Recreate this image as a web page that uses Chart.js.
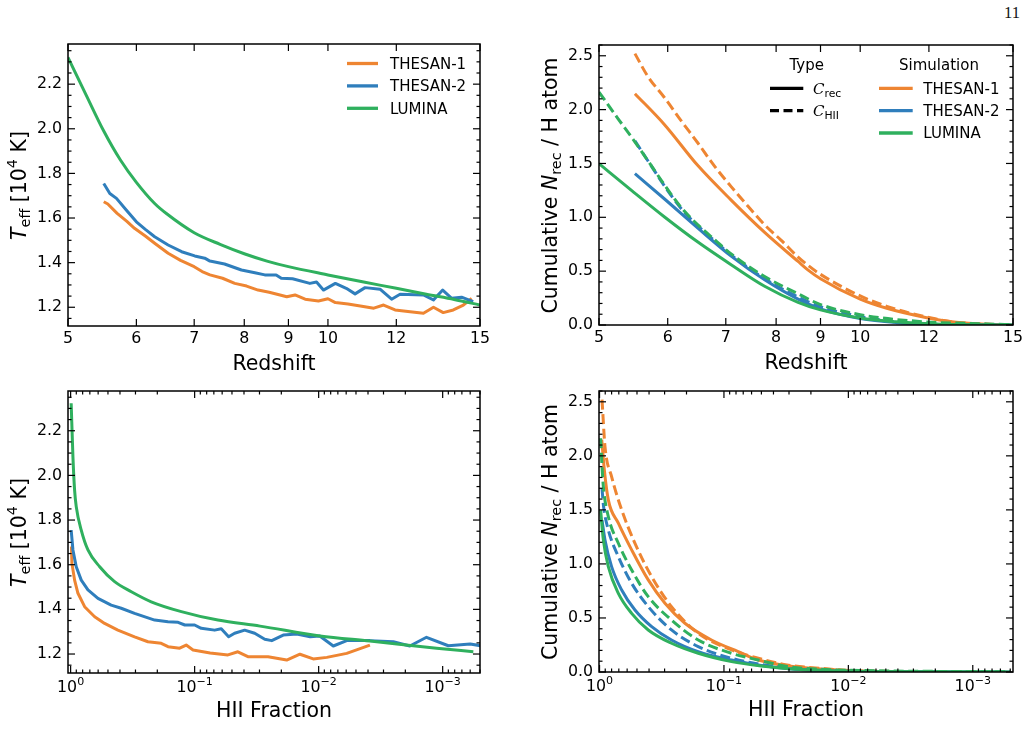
<!DOCTYPE html>
<html><head><meta charset="utf-8">
<script src="https://cdn.jsdelivr.net/npm/chart.js@4.4.0/dist/chart.umd.min.js"></script>
<style>
html,body{margin:0;padding:0;background:#fff;}
body{width:1031px;height:736px;position:relative;overflow:hidden;}
canvas{position:absolute;}
#pg{position:absolute;left:1004px;top:3px;font:16.5px "Liberation Serif","DejaVu Serif",serif;color:#111;-webkit-font-smoothing:antialiased;}
</style></head><body>
<div id="pg">11</div>
<canvas id="c1" width="515" height="380" style="left:0;top:0"></canvas>
<canvas id="c2" width="516" height="380" style="left:515px;top:0"></canvas>
<canvas id="c3" width="515" height="366" style="left:0;top:370px"></canvas>
<canvas id="c4" width="516" height="366" style="left:515px;top:370px"></canvas>
<script>
// ---------------- DATA ----------------
const simNames = ['THESAN-1', 'THESAN-2', 'LUMINA'];
const redshiftTicks = [5, 6, 7, 8, 9, 10, 12, 15];
const teffTicks = [1.2, 1.4, 1.6, 1.8, 2.0, 2.2];
const nrecTicks = [0, 0.5, 1.0, 1.5, 2.0, 2.5];
const hiiTicks = [1, 0.1, 0.01, 0.001];
const hiiTickBase = '10';
const hiiTickExps = ['0', '−1', '−2', '−3'];

// Top-left: T_eff vs redshift
const t1TeffZ = [5.5,5.56,5.7,5.85,5.97,6.15,6.3,6.53,6.75,7.0,7.15,7.3,7.55,7.8,8.05,8.3,8.55,8.8,8.96,9.16,9.41,9.75,10.0,10.2,10.55,10.9,11.3,11.6,11.96,12.45,12.9,13.25,13.6,13.97,14.35,14.67];
const t1Teff  = [1.673,1.663,1.621,1.585,1.554,1.518,1.487,1.442,1.41,1.382,1.36,1.345,1.33,1.307,1.295,1.277,1.267,1.255,1.247,1.255,1.236,1.228,1.238,1.221,1.215,1.206,1.196,1.21,1.188,1.18,1.173,1.2,1.176,1.188,1.21,1.24];
const t2TeffZ = [5.5,5.59,5.69,5.84,6.0,6.15,6.3,6.53,6.77,7.01,7.2,7.3,7.59,7.94,8.23,8.45,8.71,8.83,9.1,9.53,9.7,9.88,10.2,10.5,10.75,11.04,11.49,11.85,12.12,12.9,13.25,13.58,13.91,14.28,14.73];
const t2Teff  = [1.755,1.71,1.688,1.636,1.583,1.548,1.516,1.479,1.449,1.43,1.42,1.407,1.394,1.367,1.355,1.345,1.345,1.33,1.328,1.307,1.313,1.277,1.307,1.285,1.26,1.288,1.281,1.236,1.258,1.255,1.233,1.277,1.24,1.245,1.225];
const lumTeffZ = [5,5.25,5.5,5.75,6,6.3,6.5,7,7.5,8,8.5,9,10,11,12,13,14,15];
const lumTeff  = [2.32,2.15,1.99,1.86,1.76,1.665,1.62,1.534,1.482,1.44,1.407,1.382,1.345,1.313,1.285,1.258,1.235,1.21];

// Top-right: cumulative N_rec vs redshift
const t1CrecZ = [5.5,5.95,6.5,7.1,7.76,8.48,8.71,9,10,10.73,11.93,12.9,14.3,15];
const t1Crec  = [2.148,1.86,1.48,1.16,0.86,0.59,0.51,0.43,0.24,0.155,0.068,0.025,0.005,0.0];
const t1ChiiZ = [5.5,5.69,5.95,6.22,6.5,6.8,7.1,7.43,7.76,8.11,8.48,8.71,9,10,10.73,11.93,12.9,14.3,15];
const t1Chii  = [2.52,2.31,2.11,1.895,1.69,1.47,1.285,1.1,0.93,0.786,0.631,0.553,0.47,0.27,0.173,0.074,0.025,0.005,0.0];
const t2CrecZ = [5.5,5.95,6.5,7.1,7.76,8.48,9,10,11,12,13,15];
const t2Crec  = [1.405,1.17,0.9,0.64,0.42,0.24,0.15,0.06,0.022,0.007,0.002,0.0];
const t2ChiiZ = [5.5,5.69,5.95,6.22,6.5,6.8,7.1,7.76,8.48,9,10,11,12,13,15];
const t2Chii  = [1.71,1.528,1.29,1.08,0.92,0.78,0.65,0.43,0.26,0.17,0.08,0.028,0.009,0.002,0.0];
const lumCrecZ = [5,5.45,5.95,6.5,7.1,7.76,8.48,9,10,11,12,13,15];
const lumCrec  = [1.498,1.25,1.003,0.77,0.56,0.36,0.21,0.14,0.065,0.03,0.012,0.004,0.0];
const lumChiiZ = [5,5.26,5.45,5.69,5.95,6.22,6.5,6.8,7.1,7.76,8.48,9,10,11.7,14,15];
const lumChii  = [2.163,1.915,1.745,1.528,1.3,1.09,0.93,0.79,0.66,0.45,0.29,0.19,0.096,0.033,0.01,0.003];

// Bottom-left: T_eff vs HII fraction
const t1TeffX = [0.985,0.976,0.929,0.873,0.771,0.64,0.532,0.416,0.305,0.238,0.186,0.164,0.132,0.117,0.103,0.075,0.0539,0.0448,0.0372,0.0256,0.0181,0.01415,0.01106,0.0086,0.00594,0.00386];
const t1TeffB = [1.68,1.606,1.531,1.472,1.412,1.367,1.337,1.307,1.277,1.255,1.248,1.233,1.226,1.24,1.218,1.205,1.196,1.21,1.188,1.188,1.173,1.199,1.178,1.185,1.203,1.24];
const t2TeffX = [0.99,0.958,0.901,0.821,0.725,0.602,0.471,0.391,0.305,0.21,0.164,0.136,0.12,0.1,0.0885,0.069,0.061,0.0532,0.0476,0.0395,0.0328,0.0272,0.0239,0.0193,0.015,0.0117,0.0098,0.00762,0.00594,0.00386,0.0025,0.00184,0.00135,0.0009,0.0006,0.00048];
const t2TeffB = [1.755,1.666,1.591,1.531,1.487,1.449,1.419,1.405,1.382,1.352,1.345,1.342,1.33,1.33,1.315,1.307,1.313,1.277,1.293,1.307,1.293,1.266,1.26,1.285,1.29,1.277,1.281,1.236,1.26,1.26,1.255,1.236,1.275,1.237,1.245,1.236];
const lumTeffX = [0.99,0.958,0.929,0.901,0.821,0.725,0.583,0.442,0.324,0.224,0.128,0.0649,0.0297,0.00977,0.00386,0.00112,0.000566];
const lumTeffB = [2.323,2.083,1.934,1.86,1.755,1.666,1.591,1.524,1.479,1.434,1.39,1.352,1.325,1.281,1.258,1.226,1.21];

// Bottom-right: cumulative N_rec vs HII fraction
const t1CrecX = [0.96,0.915,0.85,0.706,0.552,0.406,0.298,0.206,0.126,0.0768,0.053,0.03,0.015,0.008,0.004];
const t1CrecB = [2.15,1.87,1.593,1.377,1.13,0.852,0.636,0.451,0.296,0.188,0.111,0.055,0.025,0.01,0.003];
const t1ChiiX = [0.955,0.904,0.8,0.664,0.519,0.381,0.264,0.161,0.0869,0.053,0.0312,0.0168,0.0091,0.004];
const t1ChiiB = [2.52,2.086,1.808,1.5,1.191,0.882,0.605,0.358,0.204,0.127,0.065,0.034,0.012,0.004];
const t2CrecX = [0.955,0.904,0.8,0.664,0.519,0.381,0.264,0.161,0.0869,0.05,0.03,0.015,0.005,0.001,0.0005];
const t2CrecB = [1.405,1.222,0.975,0.759,0.574,0.42,0.296,0.188,0.111,0.06,0.03,0.012,0.003,0.001,0.0];
const t2ChiiX = [0.955,0.932,0.85,0.706,0.552,0.406,0.264,0.161,0.0869,0.05,0.03,0.015,0.005,0.001,0.0005];
const t2ChiiB = [1.7,1.55,1.315,1.068,0.821,0.605,0.389,0.235,0.127,0.07,0.035,0.015,0.004,0.001,0.0];
const lumCrecX = [0.98,0.932,0.85,0.706,0.552,0.406,0.264,0.161,0.0869,0.05,0.03,0.015,0.005,0.001,0.0005];
const lumCrecB = [1.498,1.222,0.975,0.728,0.543,0.389,0.266,0.173,0.096,0.055,0.03,0.014,0.005,0.002,0.001];
const lumChiiX = [0.98,0.955,0.932,0.85,0.706,0.552,0.406,0.264,0.161,0.0869,0.053,0.031,0.0168,0.0049,0.001,0.0005];
const lumChiiB = [2.163,1.9,1.716,1.438,1.191,0.944,0.697,0.481,0.296,0.173,0.111,0.05,0.025,0.01,0.004,0.002];

// ---------------- STYLE ----------------
const FONT = "'DejaVu Sans', 'Liberation Sans', sans-serif";
const COL = ['#ee8532', '#2f7ebc', '#2fb05e'];
const DASH = [10, 4.5];

const pts = (xs, ys) => xs.map((x, i) => ({x: x, y: ys[i]}));
function ds(label, xs, ys, color, order, extra) {
  return Object.assign({label, data: pts(xs, ys), borderColor: color, backgroundColor: color,
    borderWidth: 3, pointRadius: 0, pointHoverRadius: 0, fill: false, tension: 0,
    borderCapStyle: 'butt', borderJoinStyle: 'round', order}, extra || {});
}
const smooth = {cubicInterpolationMode: 'monotone'};
const dashed = {cubicInterpolationMode: 'monotone', borderDash: DASH};

function drawRich(ctx, segs, size, x, y, rot, align) {
  ctx.save(); ctx.translate(x, y); ctx.rotate(rot || 0);
  let w = 0;
  const m = segs.map(g => {
    const fs = size * (g.s || 1);
    const f = (g.it ? 'italic ' : '') + fs + 'px ' + (g.fam || FONT);
    ctx.font = f; const ww = ctx.measureText(g.t).width; w += ww;
    return {f, ww, dy: (g.dy || 0) * size, t: g.t};
  });
  let cx = align === 'left' ? 0 : -w / 2;
  ctx.textBaseline = 'alphabetic'; ctx.textAlign = 'left'; ctx.fillStyle = '#000';
  m.forEach(g => { ctx.font = g.f; ctx.fillText(g.t, cx, g.dy); cx += g.ww; });
  ctx.restore();
}

const teffTitle = [{t: 'T', it: true}, {t: 'eff', s: 0.7, dy: 0.22}, {t: ' [10'}, {t: '4', s: 0.7, dy: -0.4}, {t: ' K]'}];
const nrecTitle = [{t: 'Cumulative '}, {t: 'N', it: true}, {t: 'rec', s: 0.7, dy: 0.22}, {t: ' / H atom'}];
const redshiftTitle = [{t: 'Redshift'}];
const hiiTitle = [{t: 'HII Fraction'}];
const TICK_SIZE = 15.8;

function decor(cfg) {
  return {
    id: 'decor',
    afterDraw(chart) {
      const ctx = chart.ctx, a = chart.chartArea, xs = chart.scales.x, ys = chart.scales.y;
      ctx.save();
      ctx.strokeStyle = '#000'; ctx.lineWidth = 1.2; ctx.lineCap = 'butt';
      const seg = (x1, y1, x2, y2) => { ctx.beginPath(); ctx.moveTo(x1, y1); ctx.lineTo(x2, y2); ctx.stroke(); };
      const xt = (v, L) => { const p = xs.getPixelForValue(v); if (p < a.left - 0.5 || p > a.right + 0.5) return; seg(p, a.bottom, p, a.bottom - L); seg(p, a.top, p, a.top + L); };
      const yt = (v, L) => { const p = ys.getPixelForValue(v); if (p < a.top - 0.5 || p > a.bottom + 0.5) return; seg(a.left, p, a.left + L, p); seg(a.right, p, a.right - L, p); };
      xs.ticks.forEach(t => xt(t.value, 7));
      (cfg.xMinor || []).forEach(v => xt(v, 3.5));
      ys.ticks.forEach(t => yt(t.value, 7));
      (cfg.yMinor || []).forEach(v => yt(v, 3.5));
      ctx.lineWidth = 1.5;
      ctx.strokeRect(a.left, a.top, a.right - a.left, a.bottom - a.top);
      if (cfg.powerLabels) {
        hiiTicks.forEach((v, i) => {
          const p = xs.getPixelForValue(v);
          drawRich(ctx, [{t: hiiTickBase}, {t: hiiTickExps[i], s: 0.7, dy: -0.42}], TICK_SIZE, p, a.bottom + 18.7, 0);
        });
      }
      drawRich(ctx, cfg.xTitle, 20.5, (a.left + a.right) / 2, a.bottom + 43.5, 0);
      drawRich(ctx, cfg.yTitle, 20.5, cfg.yTitleX, (a.top + a.bottom) / 2 + 0.5, -Math.PI / 2);
      if (cfg.legend) cfg.legend(ctx, chart);
      ctx.restore();
    }
  };
}

function legendLine(ctx, x1, x2, y, color, dash) {
  ctx.save(); ctx.strokeStyle = color; ctx.lineWidth = 3.3; ctx.lineCap = 'butt';
  ctx.setLineDash(dash || []);
  ctx.beginPath(); ctx.moveTo(x1, y); ctx.lineTo(x2, y); ctx.stroke(); ctx.restore();
}
function legendText(ctx, t, x, y, align) {
  ctx.save(); ctx.fillStyle = '#000'; ctx.font = '15px ' + FONT; ctx.textAlign = align || 'left';
  ctx.textBaseline = 'alphabetic'; ctx.fillText(t, x, y + 5.4); ctx.restore();
}

const legendTL = (ctx) => {
  simNames.forEach((n, i) => {
    const y = 63.5 + i * 22.4;
    legendLine(ctx, 347, 378, y, COL[i]);
    legendText(ctx, n, 390, y);
  });
};
const legendTR = (ctx) => {
  legendText(ctx, 'Type', 291.7, 65, 'center');
  legendText(ctx, 'Simulation', 424, 65, 'center');
  legendLine(ctx, 255, 288.3, 88.3, '#000');
  legendLine(ctx, 255, 288.3, 110.7, '#000', [9, 4.5]);
  drawRich(ctx, [{t: 'C', it: true, fam: "'DejaVu Serif', serif"}, {t: 'rec', s: 0.72, dy: 0.2}], 15, 298, 88.3 + 5.4, 0, 'left');
  drawRich(ctx, [{t: 'C', it: true, fam: "'DejaVu Serif', serif"}, {t: 'HII', s: 0.72, dy: 0.2}], 15, 298, 110.7 + 5.4, 0, 'left');
  simNames.forEach((n, i) => {
    const y = 88.3 + i * 22.35;
    legendLine(ctx, 364, 397.7, y, COL[i]);
    legendText(ctx, n, 408.3, y);
  });
};

const tickFont = {family: FONT, size: TICK_SIZE};
function axisX(kind, H) {
  const base = {position: 'bottom', grid: {display: false, drawTicks: false}, border: {display: false},
    afterFit: s => { s.height = H; },
    ticks: {autoSkip: false, maxRotation: 0, minRotation: 0, padding: 3, color: '#000', font: tickFont}};
  if (kind === 'z') {
    return Object.assign(base, {type: 'logarithmic', min: 5, max: 15,
      afterBuildTicks: s => { s.ticks = redshiftTicks.map(v => ({value: v})); },
      ticks: Object.assign(base.ticks, {callback: v => String(v)})});
  }
  return Object.assign(base, {type: 'logarithmic', reverse: true, min: kind.min, max: kind.max,
    afterBuildTicks: s => { s.ticks = hiiTicks.map(v => ({value: v})); },
    ticks: Object.assign(base.ticks, {display: false})});
}
function axisY(ticksArr, min, max, W) {
  return {type: 'linear', min, max, grid: {display: false, drawTicks: false}, border: {display: false},
    afterFit: s => { s.width = W; },
    afterBuildTicks: s => { s.ticks = ticksArr.map(v => ({value: v})); },
    ticks: {padding: 6, color: '#000', font: tickFont, callback: v => Number(v).toFixed(1)}};
}
function minorLinear(min, max, step, majors) {
  const out = [];
  for (let k = Math.ceil(min / step); k * step <= max; k++) {
    const v = +(k * step).toFixed(4);
    if (!majors.some(m => Math.abs(m - v) < 1e-6)) out.push(v);
  }
  return out;
}
function minorLog(min, max) {
  const out = [];
  for (let e = -4; e <= 0; e++) for (let d = 2; d <= 9; d++) { const v = d * Math.pow(10, e); if (v >= min && v <= max) out.push(v); }
  return out;
}

function makeChart(id, datasets, scales, padding, cfg) {
  return new Chart(document.getElementById(id), {
    type: 'line',
    data: {datasets},
    options: {responsive: false, animation: false, devicePixelRatio: 1, events: [],
      layout: {padding},
      plugins: {legend: {display: false}, tooltip: {enabled: false}, title: {display: false}},
      scales},
    plugins: [decor(cfg)]
  });
}

// ---- Top-left ----
makeChart('c1', [
  ds(simNames[0], t1TeffZ, t1Teff, COL[0], 3),
  ds(simNames[1], t2TeffZ, t2Teff, COL[1], 2),
  ds(simNames[2], lumTeffZ, lumTeff, COL[2], 1, smooth)
], {x: axisX('z', 54), y: axisY(teffTicks, 1.116, 2.38, 68)},
  {top: 44, right: 35, left: 0, bottom: 0},
  {xTitle: redshiftTitle, yTitle: teffTitle, yTitleX: 25.5, yMinor: minorLinear(1.116, 2.38, 0.05, teffTicks), legend: legendTL});

// ---- Top-right ----
makeChart('c2', [
  ds(simNames[0] + ' rec', t1CrecZ, t1Crec, COL[0], 6, smooth),
  ds(simNames[0] + ' HII', t1ChiiZ, t1Chii, COL[0], 5, dashed),
  ds(simNames[1] + ' rec', t2CrecZ, t2Crec, COL[1], 4, smooth),
  ds(simNames[1] + ' HII', t2ChiiZ, t2Chii, COL[1], 3, dashed),
  ds(simNames[2] + ' rec', lumCrecZ, lumCrec, COL[2], 2, smooth),
  ds(simNames[2] + ' HII', lumChiiZ, lumChii, COL[2], 1, dashed)
], {x: axisX('z', 55), y: axisY(nrecTicks, 0, 2.6, 84)},
  {top: 45, right: 18, left: 0, bottom: 0},
  {xTitle: redshiftTitle, yTitle: nrecTitle, yTitleX: 41.5, yMinor: minorLinear(0, 2.6, 0.1, nrecTicks), legend: legendTR});

// ---- Bottom-left ----
makeChart('c3', [
  ds(simNames[0], t1TeffX, t1TeffB, COL[0], 3),
  ds(simNames[1], t2TeffX, t2TeffB, COL[1], 2),
  ds(simNames[2], lumTeffX, lumTeffB, COL[2], 1, smooth)
], {x: axisX({min: 5.0e-4, max: 1.05}, 63), y: axisY(teffTicks, 1.115, 2.378, 68)},
  {top: 21, right: 35, left: 0, bottom: 0},
  {xTitle: hiiTitle, yTitle: teffTitle, yTitleX: 25.5, powerLabels: true, xMinor: minorLog(5.0e-4, 1.05), yMinor: minorLinear(1.115, 2.378, 0.05, teffTicks)});

// ---- Bottom-right ----
makeChart('c4', [
  ds(simNames[0] + ' rec', t1CrecX, t1CrecB, COL[0], 6, smooth),
  ds(simNames[0] + ' HII', t1ChiiX, t1ChiiB, COL[0], 5, dashed),
  ds(simNames[1] + ' rec', t2CrecX, t2CrecB, COL[1], 4, smooth),
  ds(simNames[1] + ' HII', t2ChiiX, t2ChiiB, COL[1], 3, dashed),
  ds(simNames[2] + ' rec', lumCrecX, lumCrecB, COL[2], 2, smooth),
  ds(simNames[2] + ' HII', lumChiiX, lumChiiB, COL[2], 1, dashed)
], {x: axisX({min: 4.75e-4, max: 1.01}, 64), y: axisY(nrecTicks, 0, 2.6, 84)},
  {top: 21, right: 18, left: 0, bottom: 0},
  {xTitle: hiiTitle, yTitle: nrecTitle, yTitleX: 41.5, powerLabels: true, xMinor: minorLog(4.75e-4, 1.01), yMinor: minorLinear(0, 2.6, 0.1, nrecTicks)});
</script>
</body></html>
